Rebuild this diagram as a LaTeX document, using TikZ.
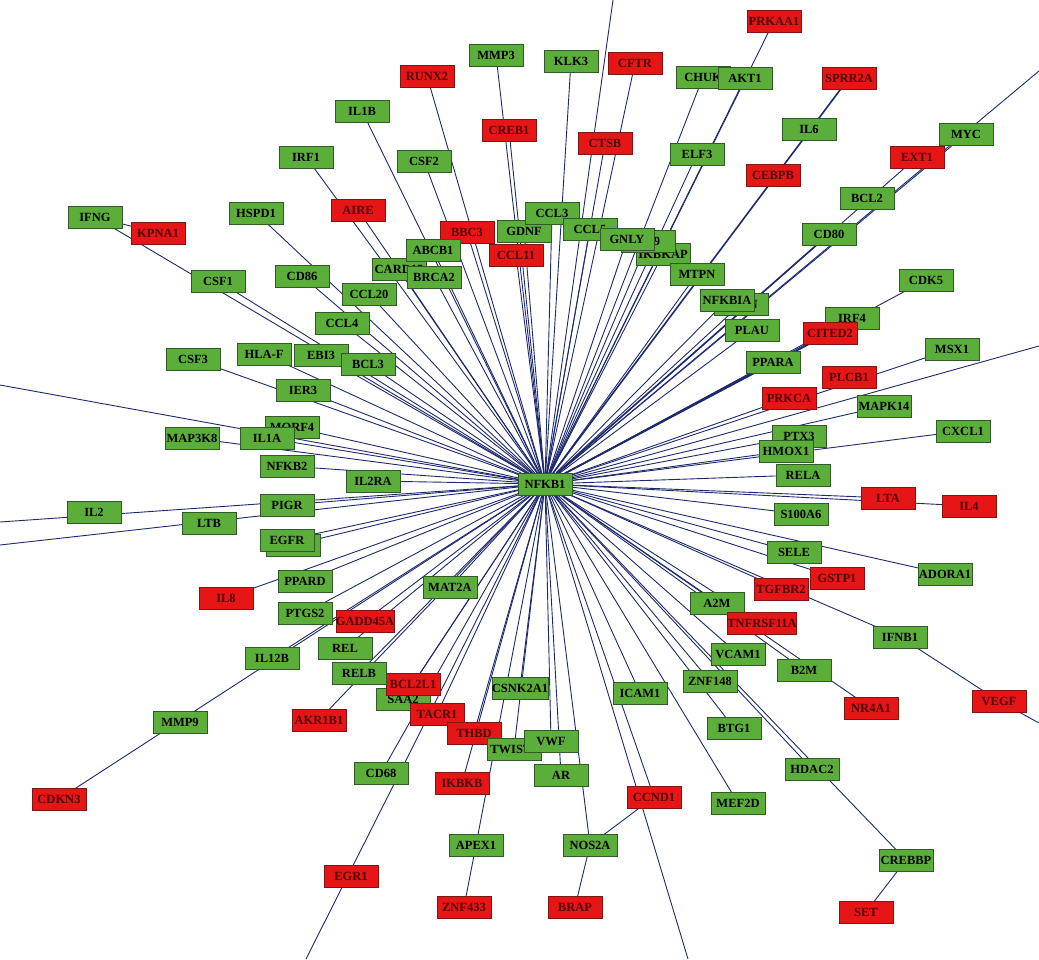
\documentclass[tikz,border=0pt]{standalone}
\usepackage{fontspec}
\setmainfont{Liberation Serif}
\usetikzlibrary{backgrounds}
\definecolor{gfill}{RGB}{92,174,58}
\definecolor{rfill}{RGB}{230,22,22}
\definecolor{edgec}{RGB}{30,42,110}
\definecolor{gbord}{RGB}{50,90,40}
\definecolor{rbord}{RGB}{130,20,20}
\definecolor{rtext}{RGB}{80,0,0}
\tikzset{
  gn/.style={rectangle, draw=gbord, line width=0.6pt, fill=gfill, minimum width=54pt,
    minimum height=22pt, inner sep=0pt, font=\bfseries\fontsize{12.5}{12.5}\selectfont, text=black},
  rn/.style={gn, fill=rfill, draw=rbord, text=rtext},
  edge/.style={draw=edgec, line width=0.9pt},
  hedge/.style={draw=edgec, line width=1.6pt},
}
\begin{document}
\begin{tikzpicture}[x=1pt,y=-1pt]
\useasboundingbox (0,0) rectangle (1039,959);
% off-image end points
\coordinate (oL1) at (0,385);
\coordinate (oL2) at (0,522);
\coordinate (oL3) at (0,545);
\coordinate (oT1) at (613,0);
\coordinate (oR1) at (1039,71);
\coordinate (oR2) at (1039,346);
\coordinate (oR3) at (1039,723);
\coordinate (oB1) at (306,959);
\coordinate (oB2) at (688,959);
% nodes
\node[gn] (IFNG) at (95,217) {IFNG};
\node[rn] (KPNA1) at (158,233) {KPNA1};
\node[gn] (HSPD1) at (256,213) {HSPD1};
\node[gn] (IRF1) at (306,157) {IRF1};
\node[gn] (CSF1) at (218,281) {CSF1};
\node[gn] (CD86) at (302,276) {CD86};
\node[rn] (AIRE) at (358,210) {AIRE};
\node[gn] (MMP3) at (496,55) {MMP3};
\node[rn] (RUNX2) at (427,76) {RUNX2};
\node[gn] (KLK3) at (571,61) {KLK3};
\node[rn] (CFTR) at (635,63) {CFTR};
\node[gn] (IL1B) at (362,111) {IL1B};
\node[rn] (CREB1) at (509,130) {CREB1};
\node[rn] (CTSB) at (605,143) {CTSB};
\node[gn] (CSF2) at (424,161) {CSF2};
\node[rn] (BBC3) at (467,232) {BBC3};
\node[gn] (GDNF) at (524,231) {GDNF};
\node[gn] (CCL3) at (552,213) {CCL3};
\node[rn] (CCL11) at (516,255) {CCL11};
\node[gn] (IKBKAP) at (663,254) {IKBKAP};
\node[gn] (CD9) at (648,241) {CD9};
\node[gn] (CCL5) at (590,229) {CCL5};
\node[gn] (GNLY) at (627,239) {GNLY};
\node[gn] (MTPN) at (697,274) {MTPN};
\node[gn] (CARD15) at (399,269) {CARD15};
\node[gn] (ABCB1) at (433,250) {ABCB1};
\node[gn] (BRCA2) at (434,277) {BRCA2};
\node[gn] (CCL20) at (369,294) {CCL20};
\node[gn] (CHUK) at (703,77) {CHUK};
\node[gn] (AKT1) at (745,78) {AKT1};
\node[gn] (ELF3) at (697,154) {ELF3};
\node[rn] (CEBPB) at (773,175) {CEBPB};
\node[gn] (IL6) at (809,129) {IL6};
\node[rn] (PRKAA1) at (774,21) {PRKAA1};
\node[rn] (SPRR2A) at (849,78) {SPRR2A};
\node[gn] (MYC) at (966,134) {MYC};
\node[rn] (EXT1) at (917,157) {EXT1};
\node[gn] (BCL2) at (867,198) {BCL2};
\node[gn] (CD80) at (829,234) {CD80};
\node[gn] (CDK5) at (926,280) {CDK5};
\node[gn] (IRF4) at (852,318) {IRF4};
\node[gn] (PTEN) at (741,304) {PTEN};
\node[gn] (NFKBIA) at (727,300) {NFKBIA};
\node[gn] (PLAU) at (752,330) {PLAU};
\node[rn] (CITED2) at (830,333) {CITED2};
\node[gn] (PPARA) at (773,362) {PPARA};
\node[gn] (MSX1) at (952,349) {MSX1};
\node[rn] (PLCB1) at (849,377) {PLCB1};
\node[rn] (PRKCA) at (789,398) {PRKCA};
\node[gn] (MAPK14) at (884,406) {MAPK14};
\node[gn] (PTX3) at (799,436) {PTX3};
\node[gn] (CXCL1) at (963,431) {CXCL1};
\node[gn] (HMOX1) at (786,451) {HMOX1};
\node[gn] (RELA) at (803,475) {RELA};
\node[rn] (LTA) at (888,498) {LTA};
\node[rn] (IL4) at (969,506) {IL4};
\node[gn] (S100A6) at (801,514) {S100A6};
\node[gn] (SELE) at (794,552) {SELE};
\node[gn] (ADORA1) at (945,574) {ADORA1};
\node[rn] (GSTP1) at (837,578) {GSTP1};
\node[rn] (TGFBR2) at (781,589) {TGFBR2};
\node[gn] (A2M) at (717,603) {A2M};
\node[rn] (TNFRSF11A) at (762,623) {TNFRSF11A};
\node[gn] (IFNB1) at (900,637) {IFNB1};
\node[gn] (VCAM1) at (738,654) {VCAM1};
\node[gn] (B2M) at (804,670) {B2M};
\node[gn] (ZNF148) at (710,681) {ZNF148};
\node[rn] (NR4A1) at (871,708) {NR4A1};
\node[rn] (VEGF) at (999,701) {VEGF};
\node[gn] (BTG1) at (734,728) {BTG1};
\node[gn] (HDAC2) at (812,769) {HDAC2};
\node[gn] (MEF2D) at (738,803) {MEF2D};
\node[gn] (CREBBP) at (906,860) {CREBBP};
\node[rn] (SET) at (866,912) {SET};
\node[gn] (CSNK2A1) at (520,688) {CSNK2A1};
\node[gn] (ICAM1) at (640,693) {ICAM1};
\node[gn] (SAA2) at (403,699) {SAA2};
\node[rn] (BCL2L1) at (413,684) {BCL2L1};
\node[gn] (RELB) at (359,673) {RELB};
\node[rn] (TACR1) at (437,714) {TACR1};
\node[rn] (THBD) at (474,733) {THBD};
\node[gn] (TWIST1) at (514,749) {TWIST1};
\node[gn] (VWF) at (551,741) {VWF};
\node[gn] (AR) at (561,775) {AR};
\node[gn] (CD68) at (381,773) {CD68};
\node[rn] (IKBKB) at (462,783) {IKBKB};
\node[rn] (CCND1) at (654,797) {CCND1};
\node[gn] (APEX1) at (476,845) {APEX1};
\node[gn] (NOS2A) at (590,845) {NOS2A};
\node[rn] (EGR1) at (351,876) {EGR1};
\node[rn] (ZNF433) at (464,907) {ZNF433};
\node[rn] (BRAP) at (575,907) {BRAP};
\node[gn] (IL12B) at (272,658) {IL12B};
\node[gn] (MMP9) at (180,722) {MMP9};
\node[rn] (CDKN3) at (59,799) {CDKN3};
\node[rn] (AKR1B1) at (319,720) {AKR1B1};
\node[gn] (REL) at (345,648) {REL};
\node[gn] (PTGS2) at (305,613) {PTGS2};
\node[rn] (GADD45A) at (365,621) {GADD45A};
\node[gn] (PPARD) at (305,581) {PPARD};
\node[gn] (MAT2A) at (450,587) {MAT2A};
\node[rn] (IL8) at (226,598) {IL8};
\node[gn] (CSF3) at (193,359) {CSF3};
\node[gn] (HLAF) at (264,354) {HLA-F};
\node[gn] (EBI3) at (321,355) {EBI3};
\node[gn] (BCL3) at (368,364) {BCL3};
\node[gn] (CCL4) at (342,323) {CCL4};
\node[gn] (IER3) at (303,390) {IER3};
\node[gn] (MORF4) at (292,427) {MORF4};
\node[gn] (IL1A) at (267,438) {IL1A};
\node[gn] (MAP3K8) at (192,438) {MAP3K8};
\node[gn] (NFKB2) at (287,466) {NFKB2};
\node[gn] (IL2RA) at (373,481) {IL2RA};
\node[gn] (PIGR) at (287,505) {PIGR};
\node[gn] (IL2) at (94,512) {IL2};
\node[gn] (LTB) at (209,523) {LTB};
\node[gn] (EGFRb) at (293,545) {};
\node[gn] (EGFR) at (287,540) {EGFR};
\node[gn] (NFKB1) at (545,484) {NFKB1};
% connectors
\begin{pgfonlayer}{background}
\fill[white] (0,0) rectangle (1039,959);
\foreach \n in {IFNG,CSF1,AIRE,IRF1,HSPD1,CD86,MMP3,CREB1,RUNX2,KLK3,CFTR,CTSB,IL1B,CSF2,
  BBC3,GDNF,CCL3,CCL11,CCL5,GNLY,CD9,IKBKAP,MTPN,ELF3,CHUK,PRKAA1,AKT1,ABCB1,CARD15,BRCA2,
  CCL20,CCL4,BCL3,EBI3,HLAF,IER3,CSF3,MORF4,IL1A,MAP3K8,NFKB2,IL2RA,PIGR,EGFR,EGFRb,PPARD,IL8,
  PTGS2,GADD45A,REL,IL12B,CDKN3,RELB,AKR1B1,MAT2A,BCL2L1,SAA2,TACR1,CD68,THBD,IKBKB,
  TWIST1,APEX1,CSNK2A1,VWF,AR,NOS2A,ICAM1,CCND1,ZNF148,BTG1,MEF2D,HDAC2,CREBBP,VCAM1,A2M,
  TNFRSF11A,B2M,NR4A1,TGFBR2,IFNB1,GSTP1,SELE,ADORA1,S100A6,LTA,IL4,RELA,HMOX1,CXCL1,PTX3,
  MAPK14,PRKCA,MSX1,PLAU,NFKBIA,PTEN,IRF4,CDK5,EXT1,MYC,
  oL1,oL2,oL3,oT1,oR1,oR2,oB1,oB2}
  \draw[edge] (NFKB1.center) -- (\n.center);
\foreach \n in {CD80,SPRR2A,CITED2,PPARA}
  \draw[hedge] (NFKB1.center) -- (\n.center);
\draw[edge] (IFNG.center) -- (KPNA1.center);
\draw[edge] (CCND1.center) -- (NOS2A.center);
\draw[edge] (NOS2A.center) -- (BRAP.center);
\draw[edge] (APEX1.center) -- (ZNF433.center);
\draw[edge] (CREBBP.center) -- (SET.center);
\draw[edge] (IFNB1.center) -- (VEGF.center);
\draw[edge] (VEGF.center) -- (oR3);
\end{pgfonlayer}
\end{tikzpicture}
\end{document}
